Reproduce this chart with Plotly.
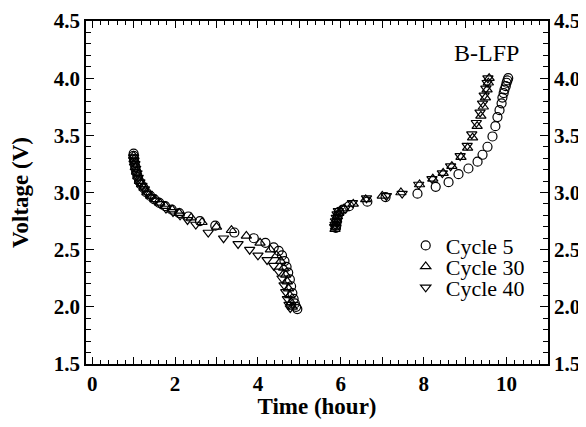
import plotly.graph_objects as go

# ---- data ----
c5_dis_t = [1.0, 1.0, 1.01, 1.02, 1.04, 1.06, 1.09, 1.13, 1.18, 1.24, 1.31, 1.4, 1.5, 1.62, 1.76, 1.92, 2.1, 2.32,
            2.6, 2.97, 3.43, 3.9, 4.18, 4.38, 4.5, 4.58, 4.64, 4.69, 4.73, 4.77, 4.8, 4.83, 4.86, 4.89, 4.92, 4.95]
c5_dis_v = [3.34, 3.32, 3.29, 3.26, 3.22, 3.18, 3.14, 3.1, 3.07, 3.04, 3.0, 2.97, 2.94, 2.91, 2.88, 2.85, 2.82, 2.79,
            2.75, 2.71, 2.65, 2.60, 2.56, 2.52, 2.49, 2.45, 2.40, 2.35, 2.30, 2.24, 2.18, 2.12, 2.07, 2.03, 2.0, 1.98]
c5_chg_t = [5.88, 5.89, 5.9, 5.91, 5.93, 5.96, 6.05, 6.2, 6.64, 7.08, 7.85, 8.29, 8.6, 8.84, 9.08, 9.3, 9.42, 9.54,
            9.66, 9.73, 9.78, 9.83, 9.88, 9.9, 9.93, 9.95, 9.98, 10.0, 10.02, 10.04]
c5_chg_v = [2.69, 2.71, 2.74, 2.77, 2.8, 2.83, 2.85, 2.88, 2.92, 2.96, 2.99, 3.05, 3.09, 3.16, 3.21, 3.27, 3.33, 3.40,
            3.49, 3.58, 3.66, 3.72, 3.78, 3.83, 3.87, 3.9, 3.93, 3.96, 3.98, 4.0]

c30_dis_t = [1.0, 1.01, 1.02, 1.04, 1.07, 1.1, 1.14, 1.19, 1.25, 1.32, 1.41, 1.51, 1.63, 1.77, 1.93, 2.1, 2.39, 2.65,
             3.0, 3.36, 3.72, 4.05, 4.3, 4.45, 4.55, 4.62, 4.67, 4.71, 4.74, 4.77, 4.8, 4.83]
c30_dis_v = [3.32, 3.29, 3.26, 3.22, 3.18, 3.14, 3.1, 3.07, 3.04, 3.0, 2.97, 2.94, 2.91, 2.88, 2.85, 2.82, 2.78, 2.74,
             2.70, 2.67, 2.62, 2.56, 2.50, 2.45, 2.40, 2.34, 2.28, 2.22, 2.16, 2.1, 2.04, 2.0]
c30_chg_t = [5.86, 5.87, 5.88, 5.9, 5.92, 5.95, 6.08, 6.3, 6.6, 7.0, 7.45, 7.9, 8.22, 8.47, 8.68, 8.9, 9.06, 9.18,
             9.29, 9.38, 9.44, 9.49, 9.53, 9.56, 9.58]
c30_chg_v = [2.68, 2.70, 2.73, 2.76, 2.79, 2.82, 2.86, 2.9, 2.94, 2.97, 3.0, 3.07, 3.12, 3.17, 3.23, 3.31, 3.39, 3.48,
             3.58, 3.67, 3.75, 3.83, 3.9, 3.96, 4.0]

c40_dis_t = [1.0, 1.01, 1.03, 1.05, 1.08, 1.11, 1.15, 1.2, 1.26, 1.33, 1.42, 1.52, 1.64, 1.78, 1.95, 2.12, 2.3, 2.5,
             2.8, 3.17, 3.52, 3.8, 4.0, 4.22, 4.38, 4.5, 4.58, 4.63, 4.67, 4.71, 4.75, 4.78]
c40_dis_v = [3.31, 3.28, 3.25, 3.21, 3.17, 3.13, 3.09, 3.06, 3.03, 2.99, 2.96, 2.93, 2.9, 2.86, 2.83, 2.80, 2.76, 2.72,
             2.65, 2.60, 2.55, 2.50, 2.45, 2.41, 2.36, 2.31, 2.25, 2.19, 2.13, 2.07, 2.02, 1.99]
c40_chg_t = [5.85, 5.86, 5.87, 5.89, 5.91, 5.94, 6.1, 6.28, 6.62, 7.1, 7.48, 7.88, 8.2, 8.45, 8.65, 8.88, 9.05, 9.16,
             9.27, 9.36, 9.42, 9.46, 9.5, 9.53, 9.55]
c40_chg_v = [2.70, 2.72, 2.75, 2.78, 2.81, 2.84, 2.86, 2.91, 2.95, 2.97, 2.99, 3.07, 3.12, 3.17, 3.23, 3.32, 3.41, 3.51,
             3.61, 3.7, 3.78, 3.85, 3.91, 3.96, 4.0]

x_tickvals = list(range(0, 12))
x_ticktext = [str(v) if v % 2 == 0 else "" for v in x_tickvals]
y_tickvals = [1.5, 2.0, 2.5, 3.0, 3.5, 4.0, 4.5]
y_ticktext = ["1.5", "2.0", "2.5", "3.0", "3.5", "4.0", "4.5"]

series = [
    ("Cycle 5", c5_dis_t + c5_chg_t, c5_dis_v + c5_chg_v, "circle-open", 9, "legend", 0.345),
    ("Cycle 30", c30_dis_t + c30_chg_t, c30_dis_v + c30_chg_v, "triangle-up-open", 9, "legend2", 0.284),
    ("Cycle 40", c40_dis_t + c40_chg_t, c40_dis_v + c40_chg_v, "triangle-down-open", 9, "legend3", 0.223),
]

fig = go.Figure()
serif = "Liberation Serif"
legend_layout = {}
for name, t, v, sym, size, leg, ly in series:
    fig.add_trace(go.Scatter(
        x=t, y=v, mode="markers", name=name, legend=leg,
        marker=dict(symbol=sym, size=size, color="black", line=dict(color="black", width=1.2)),
    ))
    legend_layout[leg] = dict(
        x=0.692, y=ly, xanchor="left", yanchor="middle",
        bgcolor="rgba(0,0,0,0)", borderwidth=0,
        font=dict(family=serif, size=22, color="black"),
        itemwidth=30,
    )

# invisible trace to carry the right-hand axis
fig.add_trace(go.Scatter(x=[0], y=[3], yaxis="y2", mode="markers", marker=dict(opacity=0),
                         showlegend=False, hoverinfo="skip"))

tickfont = dict(family=serif, size=21, color="black", weight="bold")
titlefont = dict(family=serif, size=23, color="black", weight="bold")

# the page body has an 8px margin; size the figure so the plot lands where the reference has it
fig.update_layout(
    width=576, height=411,
    margin=dict(l=78, r=36, t=13, b=55),
    paper_bgcolor="white", plot_bgcolor="white",
    showlegend=True,
    xaxis=dict(
        range=[-0.15, 11.0], tickmode="array", tickvals=x_tickvals, ticktext=x_ticktext,
        ticks="inside", ticklen=7, tickwidth=1.3, tickcolor="black",
        minor=dict(dtick=0.2, ticks="inside", ticklen=4, tickwidth=1, tickcolor="black"),
        showline=True, linecolor="black", linewidth=1.5, mirror="ticks",
        showgrid=False, zeroline=False, tickfont=tickfont, automargin=False,
        title=dict(text="Time (hour)", font=titlefont, standoff=17),
    ),
    yaxis=dict(
        range=[1.5, 4.5], tickmode="array", tickvals=y_tickvals, ticktext=y_ticktext,
        ticks="inside", ticklen=8, tickwidth=1.3, tickcolor="black",
        minor=dict(dtick=0.1, ticks="inside", ticklen=5, tickwidth=1, tickcolor="black"),
        showline=True, linecolor="black", linewidth=1.5,
        showgrid=False, zeroline=False, tickfont=tickfont, automargin=False,
        title=dict(text="Voltage (V)", font=titlefont, standoff=20),
    ),
    yaxis2=dict(
        range=[1.5, 4.5], overlaying="y", side="right", tickmode="array",
        tickvals=y_tickvals, ticktext=y_ticktext,
        ticks="inside", ticklen=8, tickwidth=1.3, tickcolor="black",
        minor=dict(dtick=0.1, ticks="inside", ticklen=5, tickwidth=1, tickcolor="black"),
        showline=True, linecolor="black", linewidth=1.5,
        showgrid=False, zeroline=False, tickfont=tickfont, automargin=False,
    ),
    annotations=[dict(text="B-LFP", xref="paper", yref="paper", x=0.866, y=0.907,
                      xanchor="center", yanchor="middle",
                      showarrow=False, font=dict(family=serif, size=24, color="black"))],
    **legend_layout,
)

fig.write_html("out.html")
